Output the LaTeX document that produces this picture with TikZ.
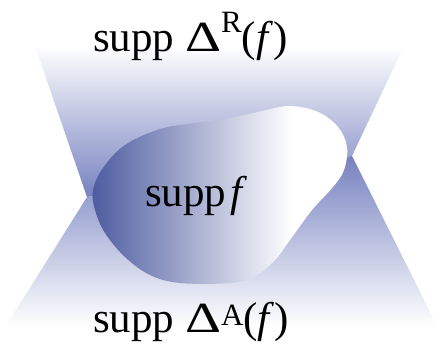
\documentclass[tikz,border=0pt]{standalone}
\usepackage{fontspec}
\newfontfamily\fa{Liberation Serif}
\definecolor{conedark}{RGB}{118,130,192}
\definecolor{blobdark}{RGB}{78,92,160}
\pgfdeclarehorizontalshading{blobsh}{100bp}{color(0bp)=(blobdark); color(25bp)=(blobdark); color(64bp)=(white); color(100bp)=(white)}
\tikzset{lbl/.style={inner sep=0pt, anchor=base west, font=\fa\fontsize{43}{43}\selectfont}}
\begin{document}
\begin{tikzpicture}[x=1pt,y=-1pt]
\fill[white] (0,0) rectangle (434,350);
\useasboundingbox (0,0) rectangle (434,350);
\coordinate (L) at (87,197);
\coordinate (R) at (352,156);
\coordinate (UL) at (35,46);
\coordinate (UR) at (404,46);
\coordinate (BL) at (6,326);
\coordinate (BR) at (436,324);
\shade[top color=white, bottom color=conedark] (L) -- (UL) -- (UR) -- (R) -- cycle;
\shade[top color=conedark, bottom color=white] (L) -- (R) -- (BR) -- (BL) -- cycle;
\shade[shading=blobsh] plot[smooth cycle, tension=0.6] coordinates {
(93,190) (103,168) (125,145) (160,129) (195,123) (230,118) (262,111) (290,106)
(318,112) (338,127) (347,147) (344,170) (333,187) (312,210) (290,240) (275,260)
(255,276) (230,283) (180,283) (150,275) (125,257) (105,233) (95,210)};
\node[lbl] (ret) at (93,52) {supp \scalebox{1.3}[1]{Δ}\raisebox{19pt}{\fontsize{31}{31}\selectfont R}(\textit{f})};
\node[lbl] (supp) at (145,207) {supp\hspace{4pt}\textit{f}};
\node[lbl] (adv) at (93,332) {supp \scalebox{1.3}[1]{Δ}\raisebox{7pt}{\fontsize{31}{31}\selectfont A}(\textit{f})};
\end{tikzpicture}
\end{document}
